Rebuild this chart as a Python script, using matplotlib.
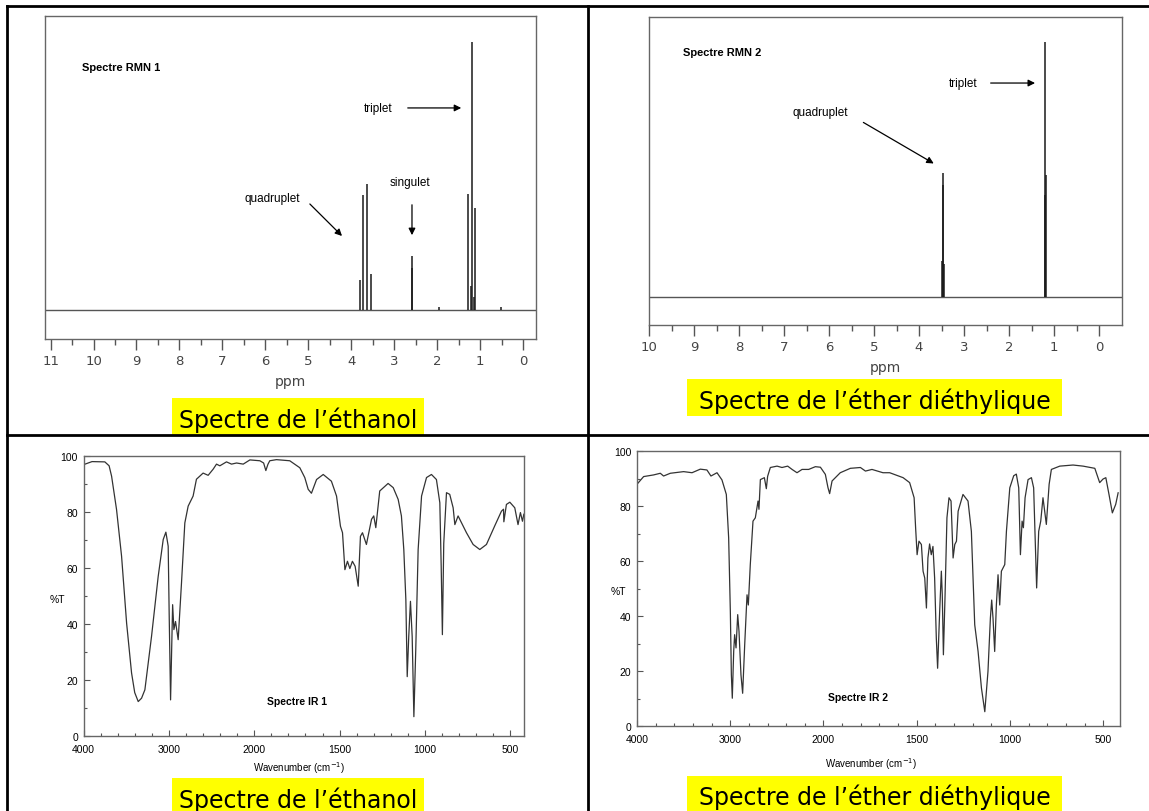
import numpy as np
import matplotlib
matplotlib.use("Agg")
import matplotlib.pyplot as plt
from matplotlib.lines import Line2D
from matplotlib.patches import Rectangle
from matplotlib.ticker import FixedLocator, MultipleLocator

plt.rcParams['font.family'] = ['Liberation Sans', 'DejaVu Sans']

W, H = 1149, 812

# --- RMN 1 : éthanol (ppm, intensité relative) ---
rmn1_ppm = [3.795, 3.725, 3.64, 3.55, 2.595, 2.585, 1.28, 1.22, 1.20, 1.14, 1.12, 1.95, 0.52]
rmn1_int = [11.2, 42.9, 47.0, 13.4, 20.1, 15.7, 43.3, 9.0, 100.0, 5.0, 38.1, 1.0, 1.0]

# --- RMN 2 : éther diéthylique ---
rmn2_ppm = [3.49, 3.47, 3.465, 3.45, 1.205, 1.19, 1.185]
rmn2_int = [14.0, 48.6, 43.9, 13.0, 40.0, 100.0, 48.0]

# --- IR 1 : éthanol (cm-1, %T) ---
ir1_wn = [4000, 3900, 3750, 3700, 3671, 3613, 3554, 3495, 3437, 3400, 3359, 3320, 3281,
          3203, 3125, 3066, 3035, 3008, 2996, 2980, 2956, 2941, 2922, 2891, 2852, 2813,
          2774, 2716, 2677, 2599, 2540, 2481, 2442, 2403, 2325, 2266, 2207, 2129, 2051,
          1967, 1945, 1932, 1920, 1909, 1870, 1792, 1733, 1704, 1684, 1665, 1635, 1596,
          1548, 1518, 1495, 1483, 1469, 1454, 1440, 1425, 1409, 1391, 1378, 1366, 1343,
          1313, 1300, 1288, 1265, 1216, 1186, 1157, 1138, 1124, 1112, 1104, 1095, 1085,
          1075, 1065, 1054, 1040, 1020, 991, 962, 933, 913, 905, 898, 890, 874, 855, 835,
          825, 806, 757, 718, 679, 640, 591, 552, 540, 538, 523, 503, 474, 455, 441, 429,
          421]
ir1_t = [96.9, 98.0, 97.9, 96.5, 92.8, 80.9, 64.2, 40.3, 22.5, 15.5, 12.3, 13.5, 16.5,
         35.6, 57.0, 70.2, 72.8, 67.8, 42.7, 12.9, 46.9, 38.0, 40.9, 34.4, 54.7, 76.1,
         82.1, 85.7, 91.7, 93.9, 93.1, 95.3, 97.1, 96.5, 97.9, 97.1, 97.5, 97.1, 98.6,
         98.3, 97.5, 94.8, 97.0, 98.3, 98.7, 98.3, 95.8, 92.3, 88.1, 86.7, 91.6, 93.4,
         91.0, 85.7, 74.9, 72.6, 59.4, 62.4, 59.8, 62.4, 60.6, 53.5, 71.3, 72.6, 68.4,
         77.4, 78.6, 74.4, 87.5, 90.2, 88.7, 84.5, 78.6, 66.6, 48.7, 21.2, 35.6, 48.1,
         35.6, 6.9, 30.8, 66.6, 85.7, 92.3, 93.4, 91.6, 83.3, 60.6, 36.2, 68.8, 86.9,
         86.3, 81.5, 75.5, 78.6, 72.6, 68.4, 66.6, 68.4, 75.1, 80.3, 81.0, 76.5, 82.7,
         83.5, 81.5, 75.5, 79.8, 76.7, 79.2]

# --- IR 2 : éther diéthylique ---
ir2_wn = [4000, 3929, 3822, 3750, 3715, 3643, 3500, 3410, 3321, 3250, 3207, 3142, 3089,
          3042, 3017, 2999, 2988, 2978, 2963, 2953, 2938, 2920, 2906, 2885, 2867, 2845,
          2820, 2806, 2785, 2756, 2731, 2702, 2692, 2677, 2634, 2613, 2599, 2570, 2498,
          2445, 2384, 2337, 2284, 2230, 2159, 2087, 2033, 1990, 1976, 1967, 1954, 1910,
          1856, 1802, 1775, 1740, 1681, 1645, 1573, 1538, 1514, 1506, 1498, 1488, 1475,
          1466, 1457, 1448, 1440, 1431, 1422, 1413, 1404, 1395, 1388, 1377, 1368, 1363,
          1357, 1348, 1338, 1327, 1316, 1305, 1296, 1287, 1278, 1252, 1225, 1207, 1189,
          1171, 1153, 1135, 1118, 1105, 1098, 1091, 1082, 1073, 1064, 1055, 1046, 1037,
          1028, 1019, 1001, 980, 966, 953, 944, 935, 928, 919, 903, 885, 873, 864, 857,
          846, 835, 823, 814, 805, 790, 778, 733, 662, 608, 545, 519, 501, 486, 469, 451,
          433, 420]
ir2_t = [87.9, 90.7, 91.3, 91.9, 90.9, 91.9, 92.5, 92.1, 93.4, 93.1, 90.9, 92.1, 89.5,
         84.2, 68.4, 41.7, 18.6, 10.1, 27.1, 33.2, 28.4, 40.5, 34.4, 18.6, 11.9, 29.5,
         47.7, 44.0, 58.7, 74.5, 75.7, 81.8, 78.8, 89.6, 90.3, 86.3, 90.8, 94.0, 94.5,
         94.0, 94.5, 93.3, 92.1, 93.3, 93.3, 94.3, 94.1, 91.5, 86.7, 84.5, 89.1, 92.1,
         93.7, 94.0, 92.7, 93.3, 92.1, 92.1, 90.3, 88.5, 83.0, 72.1, 62.3, 67.2, 66.0,
         56.3, 53.8, 42.9, 61.1, 66.2, 62.3, 65.3, 53.8, 32.0, 21.0, 41.7, 56.3, 47.7,
         25.9, 47.7, 75.7, 83.0, 81.8, 61.1, 66.0, 67.2, 78.1, 84.2, 81.8, 70.8, 36.8,
         27.1, 13.8, 5.2, 19.8, 39.3, 45.8, 39.3, 27.1, 44.0, 55.0, 44.0, 56.3, 57.5,
         58.7, 70.8, 86.6, 91.0, 91.6, 86.6, 62.3, 74.5, 72.1, 83.0, 89.6, 90.3, 86.6,
         66.0, 50.2, 70.8, 74.5, 83.0, 78.1, 73.3, 87.9, 93.3, 94.5, 94.9, 94.5, 93.7,
         88.5, 89.8, 90.3, 84.2, 77.5, 80.6, 84.8]

ir_major = [4000, 3000, 2000, 1500, 1000, 500]


def px_axes(fig, x0, y0, x1, y1):
    """Axes placées en pixels (origine en haut à gauche)."""
    return fig.add_axes([x0 / W, 1 - y1 / H, (x1 - x0) / W, (y1 - y0) / H])


def fig_text(fig, x, y, s, **kw):
    return fig.text(x / W, 1 - y / H, s, **kw)


def ir_fwd(w):
    # échelle dilatée x2 en dessous de 2000 cm-1
    w = np.asarray(w, dtype=float)
    return np.where(w >= 2000, (w - 2000) / 1000.0, (w - 2000) / 500.0)


def ir_inv(p):
    p = np.asarray(p, dtype=float)
    return np.where(p >= 0, 2000 + 1000 * p, 2000 + 500 * p)


def draw_rmn(ax, ppm, inten, xlim, ylim, nmax):
    ax.axhline(0, color="#555555", lw=1.0, zorder=1)
    ax.vlines(ppm, 0, inten, color="#1a1a1a", lw=1.1, zorder=2)
    ax.set_xlim(*xlim)
    ax.set_ylim(*ylim)
    ax.set_yticks([])
    ax.xaxis.set_major_locator(FixedLocator(list(range(0, nmax + 1))))
    ax.xaxis.set_minor_locator(FixedLocator([i + 0.5 for i in range(0, nmax)]))
    ax.tick_params(axis="x", which="major", direction="out", length=8, width=1,
                   color="#555555", labelcolor="#444444", labelsize=9.5, pad=3)
    ax.tick_params(axis="x", which="minor", direction="out", length=4, width=1,
                   color="#555555")
    for lab in ax.get_xticklabels():
        lab.set_family("DejaVu Sans")
    for sp in ax.spines.values():
        sp.set_color("#666666")
        sp.set_linewidth(1.0)


def draw_ir(ax, wn, t, xlim):
    ax.plot(wn, t, color="#333333", lw=0.9)
    ax.set_xscale("function", functions=(ir_fwd, ir_inv))
    ax.set_xlim(*xlim)
    ax.set_ylim(0, 100)
    ax.xaxis.set_major_locator(FixedLocator(ir_major))
    minors = list(range(3800, 2000, -200)) + list(range(1900, 400, -100))
    ax.xaxis.set_minor_locator(FixedLocator(minors))
    ax.xaxis.set_major_formatter(plt.FuncFormatter(lambda v, p: f"{v:.0f}"))
    ax.yaxis.set_major_locator(MultipleLocator(20))
    ax.yaxis.set_minor_locator(MultipleLocator(10))
    ax.tick_params(which="major", direction="in", length=4.5, width=0.8,
                   color="#555555", labelsize=7.5, pad=4)
    ax.tick_params(axis="x", which="major", pad=6)
    ax.tick_params(which="minor", direction="in", length=2.5, width=0.8,
                   color="#555555")
    for sp in ax.spines.values():
        sp.set_color("#666666")
        sp.set_linewidth(1.0)


fig = plt.figure(figsize=(W / 100, H / 100), dpi=100)

# ---------- RMN 1 ----------
ax1 = px_axes(fig, 45, 17, 536, 340)
draw_rmn(ax1, rmn1_ppm, rmn1_int, (11.13, -0.30), (-10.8, 109.7), 11)
ax1.text(10.27, 90.7, "Spectre RMN 1", fontsize=8, fontweight="bold", va="center")
arr = dict(arrowstyle="-|>", color="black", lw=0.9, mutation_scale=10)
ax1.annotate("", xy=(1.376, 75.4), xytext=(2.75, 75.4), arrowprops=arr)
ax1.text(3.38, 75.4, "triplet", fontsize=8.5, ha="center", va="center")
ax1.annotate("", xy=(2.587, 26.9), xytext=(2.587, 40.3), arrowprops=arr)
ax1.text(2.63, 47.8, "singulet", fontsize=8.5, ha="center", va="center")
ax1.annotate("", xy=(4.17, 26.9), xytext=(5.01, 40.3), arrowprops=arr)
ax1.text(5.84, 41.8, "quadruplet", fontsize=8.5, ha="center", va="center")
ax1.set_xlabel("ppm", fontsize=10, color="#444444", family="DejaVu Sans", labelpad=5)

# ---------- RMN 2 ----------
ax2 = px_axes(fig, 649, 18, 1122, 326)
draw_rmn(ax2, rmn2_ppm, rmn2_int, (10.0, -0.51), (-11.0, 109.8), 10)
ax2.text(9.24, 96.0, "Spectre RMN 2", fontsize=8, fontweight="bold", va="center")
ax2.annotate("", xy=(1.36, 83.9), xytext=(2.47, 83.9), arrowprops=arr)
ax2.text(3.01, 83.9, "triplet", fontsize=8.5, ha="center", va="center")
ax2.annotate("", xy=(3.62, 51.8), xytext=(5.29, 69.0), arrowprops=arr)
ax2.text(6.2, 72.5, "quadruplet", fontsize=8.5, ha="center", va="center")
ax2.set_xlabel("ppm", fontsize=10, color="#444444", family="DejaVu Sans", labelpad=5)

# ---------- IR 1 ----------
ax3 = px_axes(fig, 83.5, 457, 524, 737)
draw_ir(ax3, ir1_wn, ir1_t, (4000, 420))
fig_text(fig, 297, 702, "Spectre IR 1", fontsize=7.5, fontweight="bold", ha="center", va="center")
fig_text(fig, 57, 600, "%T", fontsize=7.5, ha="center", va="center")
fig_text(fig, 299, 768, "Wavenumber (cm$^{-1}$)", fontsize=7, ha="center", va="center")

# ---------- IR 2 ----------
ax4 = px_axes(fig, 637, 452, 1120, 727)
draw_ir(ax4, ir2_wn, ir2_t, (4000, 410))
fig_text(fig, 858, 698, "Spectre IR 2", fontsize=7.5, fontweight="bold", ha="center", va="center")
fig_text(fig, 618, 592, "%T", fontsize=7.5, ha="center", va="center")
fig_text(fig, 871, 764, "Wavenumber (cm$^{-1}$)", fontsize=7, ha="center", va="center")

# ---------- légendes surlignées ----------
captions = [
    (172, 399, 424, 437, 428, "Spectre de l\u2019\u00e9thanol"),
    (687, 380, 1062, 417, 409, "Spectre de l\u2019\u00e9ther di\u00e9thylique"),
    (172, 779, 424, 812, 808, "Spectre de l\u2019\u00e9thanol"),
    (687, 777, 1062, 812, 805, "Spectre de l\u2019\u00e9ther di\u00e9thylique"),
]
for x0, y0, x1, y1, yb, s in captions:
    fig.patches.append(Rectangle((x0 / W, 1 - y1 / H), (x1 - x0) / W, (y1 - y0) / H,
                                 transform=fig.transFigure, facecolor="#ffff00",
                                 edgecolor="none", zorder=0))
    fig_text(fig, (x0 + x1) / 2, yb, s, fontsize=17, ha="center", va="baseline",
             family="DejaVu Sans")

# ---------- cadre du tableau ----------
lines = [((7, 1149), (7, 7)), ((7, 7), (7, 812)), ((588, 588), (7, 812)),
         ((7, 1149), (436, 436))]
for xs, ys in lines:
    fig.add_artist(Line2D([x / W for x in xs], [1 - y / H for y in ys],
                          transform=fig.transFigure, color="black", lw=2.0))

fig.savefig("out.png", dpi=100)
